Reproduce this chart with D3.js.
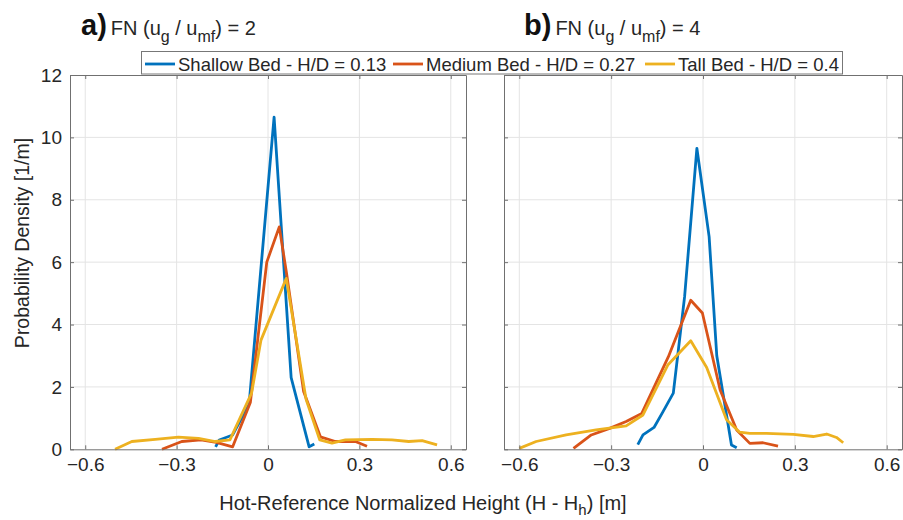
<!DOCTYPE html>
<html>
<head>
<meta charset="utf-8">
<script src="https://cdn.jsdelivr.net/npm/d3@7"></script>
<style>
  html, body { margin: 0; padding: 0; background: #fff; }
  svg text { font-family: "Liberation Sans", Arial, Helvetica, sans-serif; }
</style>
</head>
<body>
<svg id="chart" width="903" height="520"></svg>
<script>
// ---------- data ----------
const seriesNames = ["Shallow Bed - H/D = 0.13", "Medium Bed - H/D = 0.27", "Tall Bed - H/D = 0.4"];
const seriesColors = ["#0072BD", "#D95319", "#EDB120"];
const xTicks = [-0.6, -0.3, 0, 0.3, 0.6];
const yTicks = [0, 2, 4, 6, 8, 10, 12];
const panelLetters = ["a)", "b)"];
const panelFN = ["2", "4"];

// Panel a: FN = 2
const shallowA = [[-0.172,0.08],[-0.16,0.3],[-0.116,0.46],[-0.062,1.45],[0.02,10.65],[0.076,2.3],[0.135,0.08],[0.152,0.17]];
const mediumA = [[-0.348,0.0],[-0.283,0.25],[-0.22,0.3],[-0.17,0.22],[-0.116,0.08],[-0.058,1.5],[-0.004,6.0],[0.037,7.13],[0.06,5.7],[0.117,1.85],[0.172,0.4],[0.221,0.25],[0.287,0.25],[0.325,0.1]];
const tallA = [[-0.502,0],[-0.447,0.25],[-0.37,0.32],[-0.294,0.39],[-0.228,0.35],[-0.173,0.25],[-0.125,0.3],[-0.054,1.8],[-0.023,3.5],[0.06,5.48],[0.125,1.6],[0.17,0.3],[0.21,0.2],[0.254,0.3],[0.342,0.32],[0.407,0.3],[0.462,0.25],[0.506,0.28],[0.555,0.14]];

// Panel b: FN = 4
const shallowB = [[-0.213,0.15],[-0.196,0.46],[-0.16,0.7],[-0.131,1.2],[-0.097,1.8],[-0.06,4.9],[-0.02,9.65],[0.02,6.82],[0.045,3.0],[0.093,0.14],[0.11,0.05]];
const mediumB = [[-0.423,0.03],[-0.365,0.46],[-0.305,0.67],[-0.251,0.89],[-0.2,1.15],[-0.113,2.97],[-0.04,4.78],[-0.002,4.37],[0.056,1.9],[0.11,0.62],[0.153,0.19],[0.196,0.21],[0.245,0.1]];
const tallB = [[-0.6,0.03],[-0.545,0.25],[-0.447,0.46],[-0.349,0.62],[-0.251,0.75],[-0.196,1.1],[-0.115,2.7],[-0.04,3.48],[0.012,2.62],[0.077,0.95],[0.12,0.55],[0.153,0.51],[0.207,0.51],[0.295,0.48],[0.36,0.41],[0.404,0.49],[0.436,0.38],[0.458,0.21]];

const panelSeries = [[shallowA, mediumA, tallA], [shallowB, mediumB, tallB]];

// ---------- layout ----------
const svg = d3.select("#chart");
const plotTop = 75, plotBottom = 449.3;
const panels = [{x0: 70, x1: 466}, {x0: 504, x1: 902}];
const textColor = "#262626";
const axisColor = "#707070";
const gridColor = "#e4e4e4";

const y = d3.scaleLinear().domain([0, 12]).range([plotBottom, plotTop]);

panels.forEach((p, i) => {
  const x = d3.scaleLinear().domain([-0.65, 0.65]).range([p.x0, p.x1]);
  const g = svg.append("g");

  // grid
  g.selectAll(".vg").data(xTicks).join("line")
    .attr("x1", d => x(d)).attr("x2", d => x(d))
    .attr("y1", plotTop).attr("y2", plotBottom)
    .attr("stroke", gridColor).attr("stroke-width", 1);
  g.selectAll(".hg").data(yTicks.slice(1, -1)).join("line")
    .attr("x1", p.x0).attr("x2", p.x1)
    .attr("y1", d => y(d)).attr("y2", d => y(d))
    .attr("stroke", gridColor).attr("stroke-width", 1);

  // lines
  const line = d3.line().x(d => x(d[0])).y(d => y(d[1]));
  panelSeries[i].forEach((s, k) => {
    g.append("path").datum(s)
      .attr("d", line)
      .attr("fill", "none")
      .attr("stroke", seriesColors[k])
      .attr("stroke-width", 2.8)
      .attr("stroke-linejoin", "round");
  });

  // axes (ticks inside)
  const xb = d3.axisBottom(x).tickValues(xTicks).tickSizeInner(-4).tickSizeOuter(0)
    .tickFormat(d => d === 0 ? "0" : d3.format(".1f")(d));
  const gx = g.append("g").attr("transform", `translate(0,${plotBottom})`).call(xb);
  gx.select(".domain").attr("stroke", axisColor);
  gx.selectAll(".tick line").attr("stroke", axisColor);
  gx.selectAll("text").attr("fill", textColor).attr("font-size", 19)
    .attr("font-family", "Liberation Sans, Arial, sans-serif").attr("y", 8).attr("dy", "0.71em");

  const xt = d3.axisTop(x).tickValues(xTicks).tickSizeInner(-4).tickSizeOuter(0).tickFormat("");
  const gxt = g.append("g").attr("transform", `translate(0,${plotTop})`).call(xt);
  gxt.select(".domain").attr("stroke", axisColor);
  gxt.selectAll(".tick line").attr("stroke", axisColor);

  const yl = d3.axisLeft(y).tickValues(yTicks).tickSizeInner(-4).tickSizeOuter(0)
    .tickFormat(i === 0 ? d3.format("d") : "");
  const gy = g.append("g").attr("transform", `translate(${p.x0},0)`).call(yl);
  gy.select(".domain").attr("stroke", axisColor);
  gy.selectAll(".tick line").attr("stroke", axisColor);
  gy.selectAll("text").attr("fill", textColor).attr("font-size", 19)
    .attr("font-family", "Liberation Sans, Arial, sans-serif").attr("x", -8);

  const yr = d3.axisRight(y).tickValues(yTicks).tickSizeInner(-4).tickSizeOuter(0).tickFormat("");
  const gyr = g.append("g").attr("transform", `translate(${p.x1},0)`).call(yr);
  gyr.select(".domain").attr("stroke", axisColor);
  gyr.selectAll(".tick line").attr("stroke", axisColor);

  // panel title
  const tx = i === 0 ? 81 : 524;
  const t = svg.append("text").attr("x", tx).attr("y", 35).attr("fill", "#111");
  t.append("tspan").attr("font-size", 29).attr("font-weight", "bold").text(panelLetters[i]);
  t.append("tspan").attr("font-size", 20).attr("dx", 4).attr("fill", textColor).text("FN (u");
  t.append("tspan").attr("font-size", 16).attr("dy", 7).attr("fill", textColor).text("g");
  t.append("tspan").attr("font-size", 20).attr("dy", -7).attr("fill", textColor).text(" / u");
  t.append("tspan").attr("font-size", 16).attr("dy", 7).attr("fill", textColor).text("mf");
  t.append("tspan").attr("font-size", 20).attr("dy", -7).attr("fill", textColor).text(") = " + panelFN[i]);
});

// y label
svg.append("text")
  .attr("transform", "translate(29,243) rotate(-90)")
  .attr("text-anchor", "middle")
  .attr("font-size", 19.5).attr("fill", textColor)
  .text("Probability Density [1/m]");

// x label
const xl = svg.append("text").attr("x", 423).attr("y", 510).attr("text-anchor", "middle")
  .attr("font-size", 20).attr("fill", textColor);
xl.append("tspan").text("Hot-Reference Normalized Height (H - H");
xl.append("tspan").attr("font-size", 15).attr("dy", 5).text("h");
xl.append("tspan").attr("dy", -5).text(") [m]");

// legend
const leg = svg.append("g");
leg.append("rect").attr("x", 141.5).attr("y", 51.5).attr("width", 701).attr("height", 22.5)
  .attr("fill", "#fff").attr("stroke", "#777").attr("stroke-width", 1);
const legX = [145, 393, 645];
seriesNames.forEach((n, k) => {
  leg.append("line").attr("x1", legX[k]).attr("x2", legX[k] + 30)
    .attr("y1", 64).attr("y2", 64)
    .attr("stroke", seriesColors[k]).attr("stroke-width", 2.8);
  leg.append("text").attr("x", legX[k] + 33).attr("y", 70.5)
    .attr("font-size", 18.5).attr("fill", textColor).text(n);
});
</script>
</body>
</html>
